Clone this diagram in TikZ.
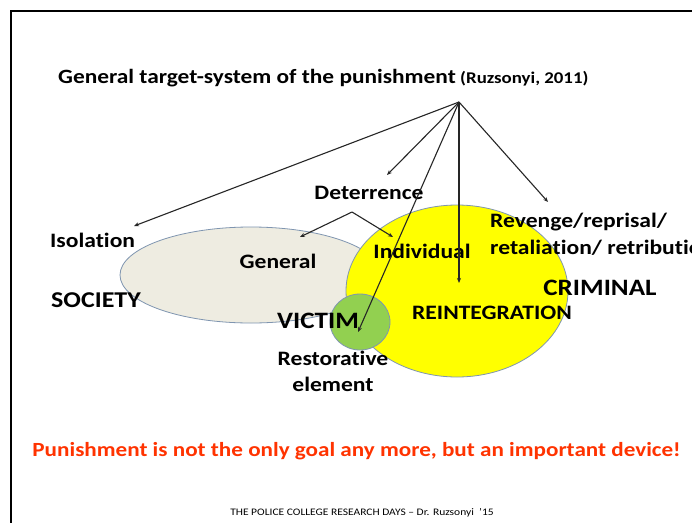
\documentclass[tikz,border=0pt]{standalone}
\usepackage{fontspec}
\setmainfont{Carlito}[FakeStretch=1.15,Ligatures={NoCommon}]
\usetikzlibrary{arrows.meta,shapes.geometric}
\definecolor{socfill}{HTML}{EEECE1}
\definecolor{ellborder}{HTML}{7F95B0}
\definecolor{critfill}{HTML}{FFFF00}
\definecolor{vicfill}{HTML}{92D050}
\definecolor{redtext}{HTML}{FF3300}
\tikzset{
  lbl/.style={font=\bfseries\fontsize{20.5}{22}\selectfont, inner sep=0pt},
  big/.style={font=\bfseries\fontsize{23.5}{25}\selectfont, inner sep=0pt},
  conn/.style={-{Stealth[length=5pt,width=4pt]}, line width=1.1pt, black!85},
  area/.style={draw=ellborder, line width=0.8pt}
}
\begin{document}
\begin{tikzpicture}[x=1pt,y=-1pt]
\useasboundingbox (0,0) rectangle (692,522);
\fill[white] (0,0) rectangle (692,522);
\draw[line width=2.6pt] (11,11) rectangle (720,540);

% areas
\node[area, fill=socfill, ellipse, minimum width=262pt, minimum height=96pt, inner sep=0pt] (society) at (251,275) {};
\node[area, fill=critfill, ellipse, minimum width=222pt, minimum height=172pt, inner sep=0pt] (criminal) at (457,291) {};
\node[area, fill=vicfill, ellipse, minimum width=60pt, minimum height=56pt, inner sep=0pt] (victim) at (360,322) {};

% title
\node[anchor=base west, inner sep=0pt, font=\bfseries\fontsize{20.3}{22}\selectfont] (title) at (58,83) {General target-system of the punishment};
\node[anchor=base west, inner sep=0pt, font=\bfseries\fontsize{16.4}{18}\selectfont] (cite) at ([xshift=4pt]title.base east) {(Ruzsonyi, 2011)};

% labels
\node[lbl] (deter) at (369,193) {Deterrence};
\node[lbl, anchor=west] (iso) at (50,240) {Isolation};
\node[lbl] (general) at (278,261) {General};
\node[lbl] (indiv) at (422,251) {Individual};
\node[lbl, anchor=west] (rev1) at (490,222) {Revenge/reprisal/};
\node[lbl, anchor=west] (rev2) at (490,248) {retaliation/ retribution};
\node[big, anchor=west, font=\bfseries\fontsize{22.6}{24}\selectfont] (soc) at (51,300) {SOCIETY};
\node[big] (crim) at (600,288) {CRIMINAL};
\node[big] (vict) at (318,321) {VICTIM};
\node[lbl] (reint) at (492,313) {REINTEGRATION};
\node[lbl] (rest1) at (333,358) {Restorative};
\node[lbl] (rest2) at (333,384) {element};

\node[inner sep=0pt, text=redtext, font=\bfseries\fontsize{20.1}{22}\selectfont] (goal) at (356.5,451) {Punishment is not the only goal any more, but an important device!};
\node[inner sep=0pt, font=\fontsize{10}{12}\selectfont] (foot) at (362,513) {THE POLICE COLLEGE RESEARCH DAYS -- Dr. Ruzsonyi \ '15};

% connector points
\coordinate (apex) at (459,102);
\coordinate (tIso) at (134,226);
\coordinate (tDet) at (387,175);
\coordinate (tVic) at (358,332);
\coordinate (tReint) at (459,283);
\coordinate (tRev) at (548,202);
\coordinate (peak) at (352,212);
\coordinate (tGen) at (300,237);
\coordinate (tInd) at (393,237);

\draw[conn] (apex) -- (tIso);
\draw[conn] (apex) -- (tDet);
\draw[conn] (apex) -- (tVic);
\draw[conn] (apex) -- (tReint);
\draw[conn] (apex) -- (tRev);
\draw[conn] (peak) -- (tGen);
\draw[conn] (peak) -- (tInd);
\end{tikzpicture}
\end{document}
